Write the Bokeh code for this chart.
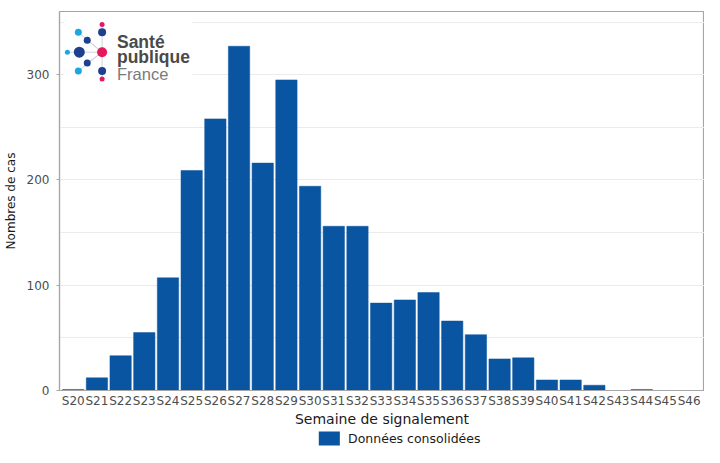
from bokeh.plotting import figure
from bokeh.layouts import column
from bokeh.models import (Range1d, SingleIntervalTicker, FixedTicker, ColumnDataSource)
from bokeh.embed import file_html
from bokeh.resources import INLINE
from bokeh.core.properties import value

# ---- data ----
weeks = ["S20", "S21", "S22", "S23", "S24", "S25", "S26", "S27", "S28", "S29", "S30",
         "S31", "S32", "S33", "S34", "S35", "S36", "S37", "S38", "S39", "S40", "S41",
         "S42", "S43", "S44", "S45", "S46"]
cases = [1, 12, 33, 55, 107, 209, 258, 327, 216, 295, 194,
         156, 156, 83, 86, 93, 66, 53, 30, 31, 10, 10,
         5, 0, 1, 0, 0]
series_name = "Données consolidées"

BAR = "#0a55a1"
FONT = "DejaVu Sans"

idx = list(range(len(weeks)))

W, H, HL = 704, 429, 18
TOP, BOTTOM, LEFT = 11, 36, 53
p = figure(width=W, height=H, x_range=Range1d(-0.58, len(weeks) - 0.35),
           y_range=Range1d(0, 360), output_backend="svg", toolbar_location=None,
           min_border_left=LEFT, min_border_right=0, min_border_top=TOP,
           min_border_bottom=BOTTOM)

src = ColumnDataSource(dict(x=idx, week=weeks, cases=cases))
r = p.vbar(x="x", top="cases", width=0.9, source=src, fill_color=BAR,
           line_color=BAR, line_width=0.5)

# ---- axes / grid ----
p.outline_line_color = "#a6a6a6"
p.outline_line_width = 1.2
p.background_fill_color = "white"
p.xgrid.grid_line_color = None
p.xaxis.ticker = FixedTicker(ticks=idx)
p.xaxis.major_label_overrides = {i: w for i, w in zip(idx, weeks)}
p.yaxis.ticker = SingleIntervalTicker(interval=100, num_minor_ticks=2)
p.ygrid.grid_line_color = "#ebebeb"
p.ygrid.minor_grid_line_color = "#ebebeb"

for ax in (p.xaxis[0], p.yaxis[0]):
    ax.axis_line_color = "#a6a6a6"
    ax.axis_line_width = 1.2
    ax.major_label_text_font = FONT
    ax.major_label_text_color = "#4d4d4d"
    ax.axis_label_text_font = FONT
    ax.axis_label_text_font_style = "normal"
    ax.axis_label_text_color = "#1a1a1a"
    ax.minor_tick_line_color = None

p.xaxis.major_tick_line_color = None
p.xaxis.major_tick_out = 0
p.xaxis.major_tick_in = 0
p.xaxis.major_label_standoff = 3
p.xaxis.major_label_text_font_size = "12px"
p.xaxis.axis_label = "Semaine de signalement"
p.xaxis.axis_label_text_font_size = "14px"
p.xaxis.axis_label_standoff = 0

p.yaxis.major_tick_line_color = "#a6a6a6"
p.yaxis.major_tick_out = 3
p.yaxis.major_tick_in = 0
p.yaxis.major_label_standoff = 6
p.yaxis.major_label_text_font_size = "12px"
p.yaxis.axis_label = "Nombres de cas"
p.yaxis.axis_label_text_font_size = "12px"
p.yaxis.axis_label_standoff = 6

# ---- logo (decoration, in frame pixel coordinates) ----
p.extra_x_ranges = {"px": Range1d(0, W - LEFT)}
p.extra_y_ranges = {"py": Range1d(H - TOP - BOTTOM, 0)}
p.quad(left=[5], right=[134], top=[8], bottom=[72], fill_color="white",
       line_color=None, x_range_name="px", y_range_name="py")
cx, cy = 43, 41
spoke_x = [43, 28, 19, 8, 28, 19, 43]
spoke_y = [13, 29, 21, 41, 52, 60, 68]
p.segment(x0=[cx] * len(spoke_x), y0=[cy] * len(spoke_y), x1=spoke_x, y1=spoke_y,
          line_color="#cfd3dc", line_width=1, x_range_name="px", y_range_name="py")
dot_x = [43, 43, 19, 28, 8, 20, 43, 28, 19, 43, 43]
dot_y = [13, 21, 21, 29, 41, 41, 41, 52, 60, 60, 68]
dot_s = [5, 8, 7, 7, 5, 11, 10, 7, 7, 8, 5]
dot_c = ["#e5185d", "#1f3f8f", "#1ca7e0", "#1f3f8f", "#1ca7e0", "#1f3f8f",
         "#e5185d", "#1f3f8f", "#1ca7e0", "#1f3f8f", "#e5185d"]
p.scatter(x=dot_x, y=dot_y, size=dot_s, fill_color=dot_c, line_color=None,
          x_range_name="px", y_range_name="py")
p.text(x=[58, 58], y=[31, 46], text=["Santé", "publique"], text_font=value("Liberation Sans"),
       text_font_style="bold", text_font_size="17.5px", text_color="#4a4a4a",
       text_baseline="alphabetic", x_range_name="px", y_range_name="py")
p.text(x=[58], y=[63], text=["France"], text_font=value("Liberation Sans"),
       text_font_size="16.5px", text_color="#7a7a7a",
       text_baseline="alphabetic", x_range_name="px", y_range_name="py")

# ---- legend strip (separate small figure, pixel coordinates) ----
lg = figure(width=W, height=HL, x_range=Range1d(0, W), y_range=Range1d(0, HL),
            output_backend="svg", toolbar_location=None, x_axis_type=None,
            y_axis_type=None, min_border=0)
lg.outline_line_color = None
lg.grid.grid_line_color = None
lg.quad(left=[283], right=[306], bottom=[2], top=[16], fill_color=BAR, line_color=None)
lg.text(x=[315], y=[9], text=[series_name], text_font=value(FONT),
        text_font_size="12.5px", text_color="#1a1a1a", text_baseline="middle")

layout = column(p, lg, spacing=0)
open("out.html", "w").write(file_html(layout, INLINE))
